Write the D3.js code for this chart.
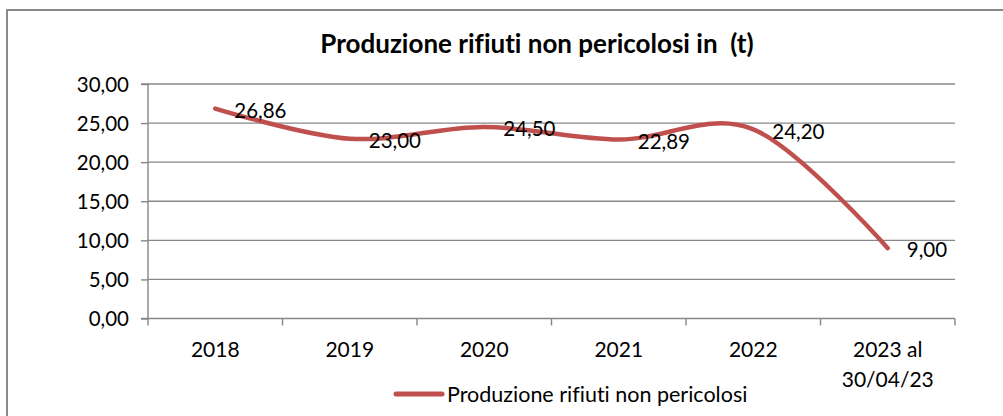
<!DOCTYPE html>
<html><head><meta charset="utf-8">
<script src="https://cdn.jsdelivr.net/npm/d3@7"></script>
<style>html,body{margin:0;padding:0;background:#fff;overflow:hidden} text{white-space:pre;font-variant-ligatures:none}</style>
</head><body>
<svg id="chart" width="1003" height="416"></svg>
<script>
const title = "Produzione rifiuti non pericolosi in  (t)";
const seriesName = "Produzione rifiuti non pericolosi";
const categories = ["2018", "2019", "2020", "2021", "2022", "2023 al 30/04/23"];
const categoryLines = [["2018"], ["2019"], ["2020"], ["2021"], ["2022"], ["2023 al", "30/04/23"]];
const values = [26.86, 23.00, 24.50, 22.89, 24.20, 9.00];
const valueLabels = ["26,86", "23,00", "24,50", "22,89", "24,20", "9,00"];
const yTicks = [0, 5, 10, 15, 20, 25, 30];
const yTickLabels = ["0,00", "5,00", "10,00", "15,00", "20,00", "25,00", "30,00"];

const FONT = "Lato, 'Open Sans', sans-serif";
const GRID = "#878787";
const RED = "#C0504D";

const svg = d3.select("#chart");

// outer frame
svg.append("rect").attr("x", 7).attr("y", 10).attr("width", 1100).attr("height", 500)
  .attr("fill", "none").attr("stroke", "#8a8a8a").attr("stroke-width", 2);

const x = d3.scaleBand().domain(categories).range([148, 955]);
const y = d3.scaleLinear().domain([0, 30]).range([318.5, 84]);

// title
svg.append("text").attr("x", 537).attr("y", 53).attr("text-anchor", "middle")
  .attr("font-family", FONT).attr("font-weight", "bold").attr("font-size", 26)
  .attr("fill", "#000").text(title);

// gridlines
svg.append("g").selectAll("line").data(yTicks.filter(d => d > 0)).join("line")
  .attr("x1", 148).attr("x2", 955).attr("y1", d => y(d)).attr("y2", d => y(d))
  .attr("stroke", GRID).attr("stroke-width", 1.4);

// y axis
const yAxis = d3.axisLeft(y).tickValues(yTicks).tickSize(7).tickPadding(12)
  .tickFormat((d, i) => yTickLabels[i]);
const gy = svg.append("g").attr("transform", "translate(148,0)").call(yAxis);
gy.select(".domain").attr("stroke", GRID).attr("stroke-width", 1.4).attr("d", `M-7,${y(0)}H0V${y(30)}H-7`);
gy.selectAll(".tick line").attr("stroke", GRID).attr("stroke-width", 1.4);
gy.selectAll(".tick text").attr("font-family", FONT).attr("font-size", 20.5).attr("fill", "#000").attr("dy", "0.35em");

// x axis
const gx = svg.append("g").attr("transform", `translate(0,${y(0)})`);
gx.append("line").attr("x1", 148).attr("x2", 955).attr("y1", 0).attr("y2", 0)
  .attr("stroke", GRID).attr("stroke-width", 1.4);
const bounds = categories.map(c => x(c)).concat([x(categories[categories.length - 1]) + x.bandwidth()]);
gx.selectAll("line.tk").data(bounds).join("line").attr("class", "tk")
  .attr("x1", d => d).attr("x2", d => d).attr("y1", 0).attr("y2", 7)
  .attr("stroke", GRID).attr("stroke-width", 1.4);
const xl = gx.selectAll("text").data(categories).join("text")
  .attr("x", c => x(c) + x.bandwidth() / 2).attr("y", 38)
  .attr("text-anchor", "middle").attr("font-family", FONT).attr("font-size", 21).attr("fill", "#000");
xl.each(function (c, i) {
  d3.select(this).selectAll("tspan").data(categoryLines[i]).join("tspan")
    .attr("x", x(c) + x.bandwidth() / 2).attr("dy", (d, j) => j === 0 ? 0 : 30).text(d => d);
});

// line
const cx = (i) => x(categories[i]) + x.bandwidth() / 2;
const line = d3.line().x((d, i) => cx(i)).y(d => y(d)).curve(d3.curveCatmullRom.alpha(0));
svg.append("path").datum(values).attr("d", line).attr("fill", "none")
  .attr("stroke", RED).attr("stroke-width", 4.5).attr("stroke-linecap", "round");

// data labels
svg.append("g").selectAll("text").data(values).join("text")
  .attr("x", (d, i) => cx(i) + 19).attr("y", d => y(d) + 2).attr("dy", "0.35em")
  .attr("font-family", FONT).attr("font-size", 20.5).attr("fill", "#000")
  .text((d, i) => valueLabels[i]);

// legend
svg.append("line").attr("x1", 396).attr("x2", 442).attr("y1", 394).attr("y2", 394)
  .attr("stroke", RED).attr("stroke-width", 5).attr("stroke-linecap", "round");
svg.append("text").attr("x", 447).attr("y", 394).attr("dy", "0.35em")
  .attr("font-family", FONT).attr("font-size", 21.5).attr("fill", "#000").text(seriesName);
</script>
</body></html>
